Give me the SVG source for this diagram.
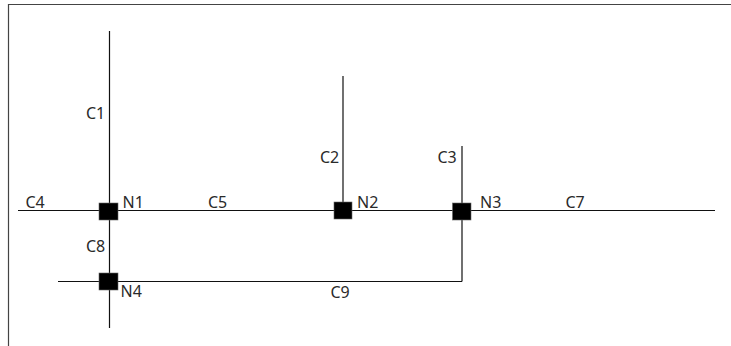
<svg xmlns="http://www.w3.org/2000/svg" width="731" height="346" viewBox="0 0 731 346">
<style>
.c{fill:none;stroke:#111;stroke-width:1.2}
.b{fill:none;stroke:#444;stroke-width:1.2}
.n{fill:#000;stroke:#666;stroke-width:.6}
text{font-family:"Noto Sans","Open Sans",sans-serif;font-size:16px;fill:#2a2a2a}
</style>
<rect width="731" height="346" fill="#fff"/>
<path class="b" d="M8.500 346V4.500H731"/>
<g id="connectors">
<path class="c" d="M109.500 31V328"/>
<path class="c" d="M343 76V210"/>
<path class="c" d="M462 146V281.500"/>
<path class="c" d="M18 210.500H715"/>
<path class="c" d="M58 281.500H462"/>
</g>
<g id="N1"><rect class="n" x="99" y="203" width="19" height="17"/><text x="122.500" y="207.500">N1</text></g>
<g id="N2"><rect class="n" x="334" y="202" width="18" height="17"/><text x="357" y="207.500">N2</text></g>
<g id="N3"><rect class="n" x="452.500" y="203" width="18.500" height="17"/><text x="480" y="207.500">N3</text></g>
<g id="N4"><rect class="n" x="99" y="273" width="19" height="17"/><text x="120.500" y="296.500">N4</text></g>
<g id="labels">
<text x="86" y="118.500">C1</text>
<text x="320" y="162.500">C2</text>
<text x="437.500" y="163">C3</text>
<text x="25.500" y="207.500">C4</text>
<text x="208" y="207.500">C5</text>
<text x="565.500" y="207.500">C7</text>
<text x="86" y="251.500">C8</text>
<text x="330.500" y="297.500">C9</text>
</g>
</svg>
